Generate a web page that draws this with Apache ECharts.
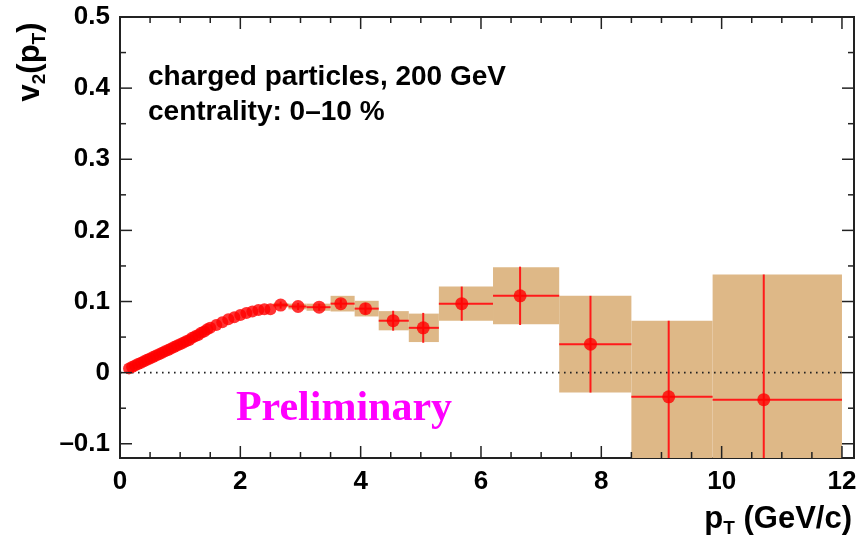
<!DOCTYPE html>
<html><head><meta charset="utf-8">
<script src="https://cdn.jsdelivr.net/npm/echarts@6/dist/echarts.min.js"></script>
<style>html,body{margin:0;padding:0;background:#fff}#c{width:861px;height:541px}</style>
</head><body><div id="c"></div>
<script>
// low-pT dense points
const lowPt = [0.15,0.20,0.25,0.30,0.35,0.40,0.45,0.50,0.55,0.60,0.65,0.70,0.75,0.80,0.85,0.90,0.95,1.00,1.05,1.10,1.15,1.20,1.25,1.30,1.35,1.40,1.45,1.50,1.60,1.70,1.80,1.90,2.00,2.10,2.20,2.30,2.40,2.50];
const lowV2 = [0.006,0.008,0.010,0.012,0.014,0.016,0.018,0.020,0.022,0.024,0.026,0.028,0.030,0.032,0.034,0.036,0.038,0.040,0.042,0.044,0.046,0.049,0.051,0.053,0.056,0.058,0.061,0.063,0.067,0.071,0.075,0.078,0.081,0.084,0.086,0.088,0.089,0.089];
// high-pT points with bins, statistical and systematic errors
const hiPt   = [2.67, 2.96, 3.31, 3.67, 4.08, 4.54, 5.04, 5.68, 6.65, 7.82, 9.12, 10.70];
const hiV2   = [0.095, 0.093, 0.092, 0.097, 0.090, 0.073, 0.063, 0.097, 0.108, 0.040, -0.034, -0.038];
const binLo  = [2.55, 2.80, 3.10, 3.50, 3.90, 4.30, 4.80, 5.30, 6.20, 7.30, 8.50, 9.85];
const binHi  = [2.80, 3.10, 3.50, 3.90, 4.30, 4.80, 5.30, 6.20, 7.30, 8.50, 9.85, 12.00];
const statErr= [0.005, 0.005, 0.005, 0.006, 0.008, 0.014, 0.021, 0.024, 0.041, 0.068, 0.107, 0.176];
const sysErr = [0.003, 0.004, 0.005, 0.011, 0.011, 0.0135, 0.020, 0.024, 0.040, 0.068, 0.107, 0.176];
// axes
const xMajorTicks = [0, 2, 4, 6, 8, 10, 12];
const xMinorTicks = [0.5, 1, 1.5, 2.5, 3, 3.5, 4.5, 5, 5.5, 6.5, 7, 7.5, 8.5, 9, 9.5, 10.5, 11, 11.5];
const yMajorTicks = [-0.1, 0, 0.1, 0.2, 0.3, 0.4, 0.5];
const yMinorTicks = [-0.05, 0.05, 0.15, 0.25, 0.35, 0.45];
const X_MIN = 0, X_MAX = 12.2, Y_MIN = -0.12, Y_MAX = 0.5;

const FONT = '"Liberation Sans", Arial, Helvetica, sans-serif';
const chart = echarts.init(document.getElementById('c'), null, {renderer: 'canvas'});

function xTickSeries(vals, len) {
  return {
    type: 'custom', z: 20, silent: true,
    data: vals.map(v => [v, 0]),
    renderItem: (params, api) => {
      const cs = params.coordSys;
      const px = api.coord([api.value(0), 0])[0];
      const b = cs.y + cs.height, t = cs.y;
      return {type: 'group', children: [
        {type: 'line', shape: {x1: px, y1: b, x2: px, y2: b - len}, style: {stroke: '#222', lineWidth: 1.5}},
        {type: 'line', shape: {x1: px, y1: t, x2: px, y2: t + len}, style: {stroke: '#222', lineWidth: 1.5}}
      ]};
    }
  };
}
function yTickSeries(vals, len) {
  return {
    type: 'custom', z: 20, silent: true,
    data: vals.map(v => [1, v]),
    renderItem: (params, api) => {
      const cs = params.coordSys;
      const py = api.coord([1, api.value(1)])[1];
      const l = cs.x, r = cs.x + cs.width;
      return {type: 'group', children: [
        {type: 'line', shape: {x1: l, y1: py, x2: l + len, y2: py}, style: {stroke: '#222', lineWidth: 1.5}},
        {type: 'line', shape: {x1: r, y1: py, x2: r - len, y2: py}, style: {stroke: '#222', lineWidth: 1.5}}
      ]};
    }
  };
}

const option = {
  animation: false,
  backgroundColor: '#fff',
  grid: {left: 120, right: 7, top: 17, bottom: 83, show: true, borderColor: '#222', borderWidth: 2, backgroundColor: 'transparent'},
  xAxis: {
    type: 'value', min: X_MIN, max: X_MAX, interval: 2,
    axisLine: {show: false}, axisTick: {show: false}, splitLine: {show: false},
    axisLabel: {showMaxLabel: false, margin: 11, color: '#000', fontFamily: FONT, fontWeight: 'bold', fontSize: 26,
      formatter: v => (Math.abs(v - Math.round(v)) < 1e-6 && Math.round(v) % 2 === 0) ? String(Math.round(v)) : ''}
  },
  yAxis: {
    type: 'value', min: Y_MIN, max: Y_MAX, interval: 0.01,
    axisLine: {show: false}, axisTick: {show: false}, splitLine: {show: false},
    axisLabel: {margin: 10, color: '#000', fontFamily: FONT, fontWeight: 'bold', fontSize: 26,
      formatter: v => {
        const k = Math.round(v * 10);
        if (Math.abs(v * 10 - k) > 1e-6) return '';
        if (k === 0) return '0';
        const s = (Math.abs(k) / 10).toFixed(1);
        return k < 0 ? '\u2013' + s : s;
      }}
  },
  series: [
    // systematic boxes
    {
      type: 'custom', z: 2, silent: true,
      data: hiPt.map((p, i) => [binLo[i], binHi[i], hiV2[i], sysErr[i]]),
      encode: {x: [0, 1], y: 2},
      renderItem: (params, api) => {
        const top = Math.min(api.value(2) + api.value(3), Y_MAX);
        const bot = Math.max(api.value(2) - api.value(3), Y_MIN);
        const p1 = api.coord([api.value(0), top]);
        const p2 = api.coord([api.value(1), bot]);
        return {type: 'rect', shape: {x: p1[0], y: p1[1], width: p2[0] - p1[0], height: p2[1] - p1[1]},
          style: {fill: '#deb887'}};
      }
    },
    // dotted zero line
    {
      type: 'line', z: 3, silent: true, symbol: 'none',
      data: [[0, 0], [12, 0]],
      lineStyle: {color: '#222', width: 1.6, type: [1.6, 4.4]}
    },
    // error bars
    {
      type: 'custom', z: 4, silent: true,
      data: hiPt.map((p, i) => [p, hiV2[i], binLo[i], binHi[i], statErr[i]]),
      encode: {x: 0, y: 1},
      renderItem: (params, api) => {
        const x = api.value(0), y = api.value(1), e = api.value(4);
        const c = api.coord([x, y]);
        const l = api.coord([api.value(2), y]);
        const r = api.coord([api.value(3), y]);
        const t = api.coord([x, Math.min(y + e, Y_MAX)]);
        const b = api.coord([x, Math.max(y - e, Y_MIN)]);
        const st = {stroke: '#ff1a1a', lineWidth: 2};
        return {type: 'group', children: [
          {type: 'line', shape: {x1: l[0], y1: c[1], x2: r[0], y2: c[1]}, style: st},
          {type: 'line', shape: {x1: c[0], y1: t[1], x2: c[0], y2: b[1]}, style: st}
        ]};
      }
    },
    // low pT points
    {
      type: 'scatter', z: 5, silent: true, symbol: 'circle', symbolSize: 12,
      itemStyle: {color: '#ff0000'},
      data: lowPt.map((p, i) => [p, lowV2[i]])
    },
    // high pT points
    {
      type: 'scatter', z: 6, silent: true, symbol: 'circle', symbolSize: 13,
      itemStyle: {color: '#ff0000'},
      data: hiPt.map((p, i) => [p, hiV2[i]])
    },
    xTickSeries(xMajorTicks, 12),
    xTickSeries(xMinorTicks, 6),
    yTickSeries(yMajorTicks, 12),
    yTickSeries(yMinorTicks, 6)
  ],
  graphic: [
    {type: 'text', x: 148, y: 77, z: 30, style: {text: 'charged particles, 200 GeV', fill: '#000',
      font: 'bold 28px ' + FONT, verticalAlign: 'middle'}},
    {type: 'text', x: 148, y: 112, z: 30, style: {text: 'centrality: 0\u201310 %', fill: '#000',
      font: 'bold 28px ' + FONT, verticalAlign: 'middle'}},
    {type: 'text', x: 344, y: 409, z: 30, style: {text: 'Preliminary', fill: '#ff00ff',
      font: 'bold 42px "Liberation Serif", "Times New Roman", serif', align: 'center', verticalAlign: 'middle'}},
    {type: 'text', x: 30, y: 62, z: 30, rotation: Math.PI / 2, style: {
      text: '{a|v}{b|2}{a|(p}{b|T}{a|)}', align: 'center', verticalAlign: 'middle',
      rich: {a: {font: 'bold 31px ' + FONT, fill: '#000', lineHeight: 38, verticalAlign: 'middle'},
             b: {font: 'bold 19px ' + FONT, fill: '#000', lineHeight: 19, verticalAlign: 'bottom'}}}},
    {type: 'text', x: 852, y: 519, z: 30, style: {
      text: '{a|p}{b|T}{a| (GeV/c)}', align: 'right', verticalAlign: 'middle',
      rich: {a: {font: 'bold 31px ' + FONT, fill: '#000', lineHeight: 38, verticalAlign: 'middle'},
             b: {font: 'bold 19px ' + FONT, fill: '#000', lineHeight: 19, verticalAlign: 'bottom'}}}}
  ]
};
chart.setOption(option);
</script>
</body></html>
